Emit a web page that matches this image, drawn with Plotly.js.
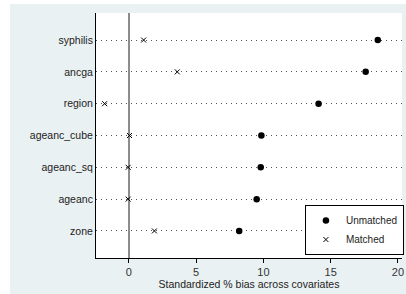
<!DOCTYPE html>
<html>
<head>
<meta charset="utf-8">
<script src="https://cdn.plot.ly/plotly-3.0.1.min.js"></script>
<style>
html,body{margin:0;padding:0;background:#ffffff;}
#chart{position:absolute;left:10px;top:4px;width:396px;height:290px;}
</style>
</head>
<body>
<div id="chart"></div>
<script>
const categories = ["syphilis","ancga","region","ageanc_cube","ageanc_sq","ageanc","zone"];
const unmatched = [18.5, 17.6, 14.1, 9.85, 9.8, 9.5, 8.2];
const matched = [1.1, 3.6, -1.8, 0.05, -0.05, -0.05, 1.9];
const xTicks = [0, 5, 10, 15, 20];
const seriesNames = ["Unmatched", "Matched"];

const fnt = "Liberation Sans, Arial, sans-serif";

const traces = [
  {
    type: "scatter", mode: "markers", name: seriesNames[0],
    x: unmatched, y: categories,
    marker: {symbol: "circle", size: 6.5, color: "#000000"},
    cliponaxis: false
  },
  {
    type: "scatter", mode: "markers", name: seriesNames[1],
    x: matched, y: categories,
    marker: {symbol: "x-thin-open", size: 5, color: "#000000", line: {width: 1, color: "#000000"}},
    cliponaxis: false
  }
];

const layout = {
  width: 396, height: 290,
  margin: {l: 86, r: 3, t: 9, b: 36},
  paper_bgcolor: "#eaf1f3",
  plot_bgcolor: "#ffffff",
  font: {family: fnt, size: 10, color: "#222"},
  showlegend: true,
  legend: {
    x: 1.003, xanchor: "right", y: 0.012, yanchor: "bottom",
    bgcolor: "#ffffff", bordercolor: "#000000", borderwidth: 1,
    font: {family: fnt, size: 10, color: "#222"},
    itemwidth: 30, tracegroupgap: 0
  },
  xaxis: {
    range: [-2.44, 20.3],
    tickvals: xTicks,
    ticktext: xTicks.map(String),
    ticks: "outside", ticklen: 4, tickcolor: "#000",
    showline: true, linecolor: "#000", linewidth: 1,
    showgrid: false,
    zeroline: true, zerolinecolor: "#8c8c8c", zerolinewidth: 1.5,
    tickfont: {family: fnt, size: 11, color: "#333"},
    title: {text: "Standardized % bias across covariates", standoff: 0,
            font: {family: fnt, size: 10.5, color: "#222"}},
    fixedrange: true
  },
  yaxis: {
    type: "category",
    categoryorder: "array",
    categoryarray: categories.slice().reverse(),
    range: [-0.85, 6.85],
    showline: true, linecolor: "#000", linewidth: 1,
    ticks: "",
    showgrid: true, gridcolor: "#555", gridwidth: 1, griddash: "1px,4px",
    zeroline: false,
    tickfont: {family: fnt, size: 10.5, color: "#222"},
    fixedrange: true
  }
};

Plotly.newPlot("chart", traces, layout, {displayModeBar: false, staticPlot: true});
</script>
</body>
</html>
